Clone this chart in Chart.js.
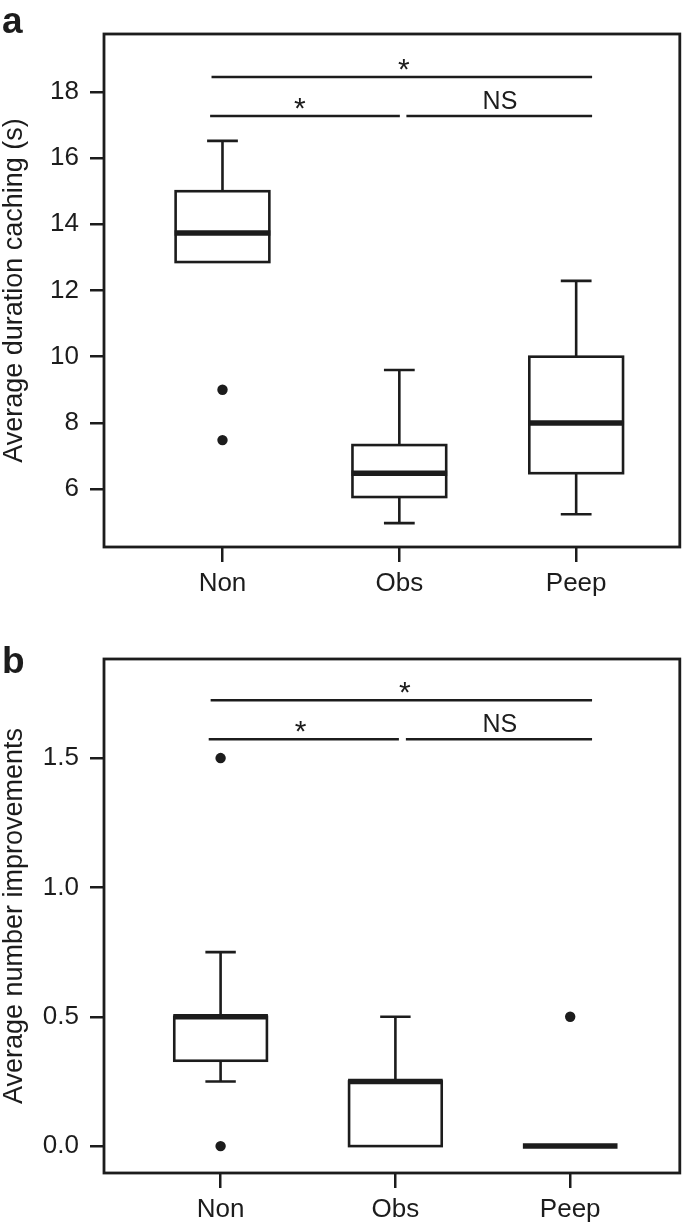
<!DOCTYPE html>
<html>
<head>
<meta charset="utf-8">
<script src="https://cdn.jsdelivr.net/npm/chart.js@4"></script>
<style>
  html, body { margin: 0; padding: 0; background: #fff; }
  canvas { display: block; }
</style>
</head>
<body>
<canvas id="chartA" width="685" height="615"></canvas>
<canvas id="chartB" width="685" height="611"></canvas>
<script>
// categories
const categories = ['Non', 'Obs', 'Peep'];

// panel a: average duration caching (s)
const durLow = [12.86, 4.97, 5.24];
const durQ1 = [12.86, 5.76, 6.48];
const durMedian = [13.74, 6.48, 8.0];
const durQ3 = [15.0, 7.33, 10.0];
const durHigh = [16.52, 9.6, 12.29];
const durOutliers = [[9.0, 7.48], [], []];
const durTicks = [6, 8, 10, 12, 14, 16, 18];

// panel b: average number improvements
const impLow = [0.25, 0, 0];
const impQ1 = [0.33, 0, 0];
const impMedian = [0.5, 0.25, 0];
const impQ3 = [0.5, 0.25, 0];
const impHigh = [0.75, 0.5, 0];
const impOutliers = [[0, 1.5], [], [0.5]];
const impTicks = [0, 0.5, 1.0, 1.5];

// significance brackets (from, to, y, label x, label)
const durBrackets = [
  [0.938, 3.09, 18.45, 2.025, '*'],
  [0.93, 2.003, 17.27, 1.437, '*'],
  [2.04, 3.09, 17.27, 2.569, 'NS']
];
const impBrackets = [
  [0.943, 3.125, 1.724, 2.054, '*'],
  [0.932, 2.02, 1.573, 1.458, '*'],
  [2.06, 3.125, 1.573, 2.598, 'NS']
];

const INK = '#1c1c1c';
Chart.defaults.font.family = "'Liberation Sans', Arial, sans-serif";
Chart.defaults.color = INK;

const boxPlugin = {
  id: 'boxes',
  beforeDatasetsDraw(chart, args, o) {
    const {ctx, chartArea: a} = chart;
    const x = chart.scales.x, y = chart.scales.y;
    const half = (x.getPixelForValue(1 + 0.265) - x.getPixelForValue(1));
    const cap = (x.getPixelForValue(1 + 0.087) - x.getPixelForValue(1));
    ctx.save();
    ctx.strokeStyle = INK;
    ctx.lineCap = 'butt';
    categories.forEach((c, i) => {
      const cx = x.getPixelForValue(i + 1);
      const yl = y.getPixelForValue(o.low[i]), y1 = y.getPixelForValue(o.q1[i]);
      const ym = y.getPixelForValue(o.median[i]), y3 = y.getPixelForValue(o.q3[i]);
      const yh = y.getPixelForValue(o.high[i]);
      ctx.lineWidth = 2.6;
      ctx.beginPath();
      if (o.high[i] > o.q3[i]) {
        ctx.moveTo(cx, y3); ctx.lineTo(cx, yh);
        ctx.moveTo(cx - cap, yh); ctx.lineTo(cx + cap, yh);
      }
      if (o.low[i] < o.q1[i]) {
        ctx.moveTo(cx, y1); ctx.lineTo(cx, yl);
        ctx.moveTo(cx - cap, yl); ctx.lineTo(cx + cap, yl);
      }
      ctx.stroke();
      if (o.q3[i] > o.q1[i]) {
        ctx.fillStyle = '#fff';
        ctx.fillRect(cx - half, y3, half * 2, y1 - y3);
        ctx.strokeRect(cx - half, y3, half * 2, y1 - y3);
      }
      ctx.lineWidth = 5.5;
      ctx.beginPath();
      ctx.moveTo(cx - half - 1, ym); ctx.lineTo(cx + half + 1, ym);
      ctx.stroke();
    });
    // frame
    ctx.lineWidth = 2.8;
    ctx.strokeRect(a.left, a.top, a.right - a.left, a.bottom - a.top);
    // brackets
    ctx.lineWidth = 2.5;
    ctx.fillStyle = INK;
    ctx.textAlign = 'center';
    ctx.textBaseline = 'alphabetic';
    o.brackets.forEach(b => {
      const by = y.getPixelForValue(b[2]);
      ctx.beginPath();
      ctx.moveTo(x.getPixelForValue(b[0]), by);
      ctx.lineTo(x.getPixelForValue(b[1]), by);
      ctx.stroke();
      const lx = x.getPixelForValue(b[3]);
      if (b[4] === '*') {
        ctx.font = "30px 'Liberation Sans', Arial, sans-serif";
        ctx.fillText(b[4], lx, by + 2);
      } else {
        ctx.font = "25px 'Liberation Sans', Arial, sans-serif";
        ctx.fillText(b[4], lx, by - 7);
      }
    });
    // panel letter
    ctx.font = "bold 37px 'Liberation Sans', Arial, sans-serif";
    ctx.textAlign = 'left';
    ctx.fillText(o.letter, 2, o.letterY);
    ctx.restore();
  }
};

function makeChart(id, cfg) {
  const pts = [];
  cfg.outliers.forEach((list, i) => list.forEach(v => pts.push({x: i + 1, y: v})));
  return new Chart(document.getElementById(id), {
    type: 'scatter',
    data: {
      datasets: [{
        data: pts,
        pointRadius: 5.2,
        pointBackgroundColor: INK,
        pointBorderWidth: 0
      }]
    },
    options: {
      responsive: false,
      animation: false,
      events: [],
      layout: {padding: {top: cfg.top, right: 3, left: 0, bottom: 0}},
      plugins: {
        legend: {display: false},
        tooltip: {enabled: false},
        boxes: cfg.box
      },
      scales: {
        x: {
          type: 'linear',
          min: cfg.xmin, max: cfg.xmax,
          afterBuildTicks: s => { s.ticks = categories.map((c, i) => ({value: i + 1})); },
          afterFit: s => { s.height = cfg.xh; },
          ticks: {
            callback: v => categories[v - 1],
            font: {size: 26},
            padding: 6,
            maxRotation: 0,
            autoSkip: false
          },
          grid: {drawOnChartArea: false, drawTicks: true, tickLength: 15, lineWidth: 2.5, color: INK},
          border: {display: false}
        },
        y: {
          min: cfg.ymin, max: cfg.ymax,
          afterBuildTicks: s => { s.ticks = cfg.ticks.map(v => ({value: v})); },
          afterFit: s => { s.width = 104; },
          ticks: {
            callback: cfg.fmt,
            font: {size: 26},
            padding: 11
          },
          grid: {drawOnChartArea: false, drawTicks: true, tickLength: 14, lineWidth: 2.5, color: INK},
          border: {display: false},
          title: {
            display: true,
            text: cfg.title,
            font: {size: 27, lineHeight: 1.0},
            padding: {top: 1, bottom: 0}
          }
        }
      }
    },
    plugins: [boxPlugin]
  });
}

makeChart('chartA', {
  top: 34, xh: 68,
  xmin: 0.33, xmax: 3.586,
  ymin: 4.25, ymax: 19.75,
  ticks: durTicks,
  fmt: v => String(v),
  title: 'Average duration caching (s)',
  outliers: durOutliers,
  box: {low: durLow, q1: durQ1, median: durMedian, q3: durQ3, high: durHigh,
        brackets: durBrackets, letter: 'a', letterY: 33}
});

makeChart('chartB', {
  top: 44, xh: 53,
  xmin: 0.333, xmax: 3.627,
  ymin: -0.104, ymax: 1.883,
  ticks: impTicks,
  fmt: v => v.toFixed(1),
  title: 'Average number improvements',
  outliers: impOutliers,
  box: {low: impLow, q1: impQ1, median: impMedian, q3: impQ3, high: impHigh,
        brackets: impBrackets, letter: 'b', letterY: 58}
});
</script>
</body>
</html>
